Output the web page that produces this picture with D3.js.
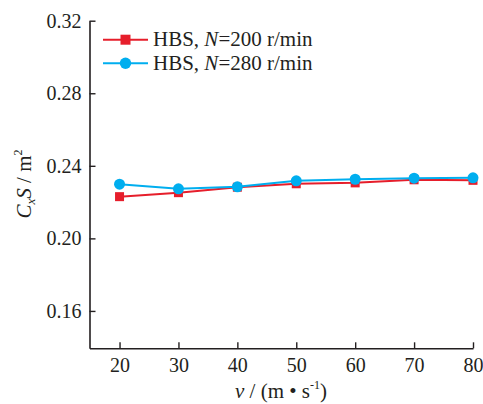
<!DOCTYPE html>
<html>
<head>
<meta charset="utf-8">
<script src="https://cdn.jsdelivr.net/npm/d3@7"></script>
<style>
  html, body { margin: 0; padding: 0; background: #fff; }
</style>
</head>
<body>
<svg id="chart" width="483" height="404"></svg>
<script>
// Wind speed (m/s)
const speeds = [20, 30, 40, 50, 60, 70, 80];
// Drag area CxS (m^2) at two rotation speeds
const cs200 = [0.2230, 0.2252, 0.2282, 0.2301, 0.2306, 0.2323, 0.2320];
const cs280 = [0.2299, 0.2273, 0.2284, 0.2317, 0.2326, 0.2332, 0.2334];
const yTicks = [0.16, 0.20, 0.24, 0.28, 0.32];
const xTicks = [20, 30, 40, 50, 60, 70, 80];
const seriesNames = ["200", "280"];

const RED = "#e61e2b";
const BLUE = "#00aeef";
const INK = "#231f20";
const SERIF = "'Liberation Serif', 'Times New Roman', 'DejaVu Serif', serif";

const svg = d3.select("#chart");
const plot = { left: 89.5, right: 473, top: 20.7, bottom: 348.3 };

const x = d3.scaleLinear().domain([14.9, 80]).range([plot.left, plot.right]);
const y = d3.scaleLinear().domain([0.1394, 0.32]).range([plot.bottom, plot.top]);

// Axes with inward ticks
const yAxis = d3.axisLeft(y).tickValues(yTicks).tickSizeInner(-6).tickSizeOuter(0)
  .tickPadding(8).tickFormat(d3.format(".2f"));
const xAxis = d3.axisBottom(x).tickValues(xTicks).tickSizeInner(-6).tickSizeOuter(0)
  .tickPadding(8).tickFormat(d3.format("d"));

const gy = svg.append("g").attr("transform", `translate(${plot.left},0)`).call(yAxis);
const gx = svg.append("g").attr("transform", `translate(0,${plot.bottom})`).call(xAxis);
[gx, gy].forEach(g => {
  g.attr("font-family", SERIF).attr("font-size", 20);
  g.select(".domain").attr("stroke", INK).attr("stroke-width", 1.6);
  g.selectAll(".tick line").attr("stroke", INK).attr("stroke-width", 1.4);
  g.selectAll(".tick text").attr("fill", INK);
});
gx.selectAll(".tick text").attr("y", 24).attr("dy", 0);

// Series
const line = d3.line().x(d => x(d[0])).y(d => y(d[1]));
const d200 = speeds.map((s, i) => [s, cs200[i]]);
const d280 = speeds.map((s, i) => [s, cs280[i]]);

svg.append("path").datum(d200).attr("fill", "none").attr("stroke", RED)
  .attr("stroke-width", 2).attr("d", line);
svg.selectAll(".sq").data(d200).enter().append("rect")
  .attr("x", d => x(d[0]) - 4.5).attr("y", d => y(d[1]) - 4.5)
  .attr("width", 9).attr("height", 9).attr("fill", RED);

svg.append("path").datum(d280).attr("fill", "none").attr("stroke", BLUE)
  .attr("stroke-width", 2).attr("d", line);
svg.selectAll(".dot").data(d280).enter().append("circle")
  .attr("cx", d => x(d[0])).attr("cy", d => y(d[1])).attr("r", 5.5).attr("fill", BLUE);

// Legend
const legend = svg.append("g").attr("font-family", SERIF).attr("fill", INK);
const rows = [{ n: seriesNames[0], c: RED, m: "sq", y: 39.7 }, { n: seriesNames[1], c: BLUE, m: "dot", y: 63.3 }];
rows.forEach(r => {
  legend.append("line").attr("x1", 103).attr("x2", 148).attr("y1", r.y).attr("y2", r.y)
    .attr("stroke", r.c).attr("stroke-width", 2);
  if (r.m === "sq") {
    legend.append("rect").attr("x", 120.5).attr("y", r.y - 5).attr("width", 10).attr("height", 10).attr("fill", r.c);
  } else {
    legend.append("circle").attr("cx", 125.5).attr("cy", r.y).attr("r", 5.7).attr("fill", r.c);
  }
  const t = legend.append("text").attr("x", 153).attr("y", r.y + 6.3).attr("font-size", 21);
  t.append("tspan").text("HBS, ");
  t.append("tspan").attr("font-style", "italic").text("N");
  t.append("tspan").text(`=${r.n} r/min`);
});

// X axis title
const xt = svg.append("text").attr("font-family", SERIF).attr("fill", INK)
  .attr("x", 281).attr("y", 398).attr("text-anchor", "middle").attr("font-size", 21);
xt.append("tspan").attr("font-style", "italic").text("v");
xt.append("tspan").text(" / (m \u2022 s");
xt.append("tspan").attr("font-size", 12).attr("dy", -9).text("-1");
xt.append("tspan").attr("dy", 9).text(")");

// Y axis title
const yt = svg.append("text").attr("font-family", SERIF).attr("fill", INK)
  .attr("transform", "translate(31,184) rotate(-90)")
  .attr("text-anchor", "middle").attr("font-size", 21);
yt.append("tspan").attr("font-style", "italic").text("C");
yt.append("tspan").attr("font-style", "italic").attr("font-size", 13).attr("dy", 4).text("x");
yt.append("tspan").attr("font-style", "italic").attr("dy", -4).text("S");
yt.append("tspan").text(" / m");
yt.append("tspan").attr("font-size", 12).attr("dy", -9).text("2");
</script>
</body>
</html>
